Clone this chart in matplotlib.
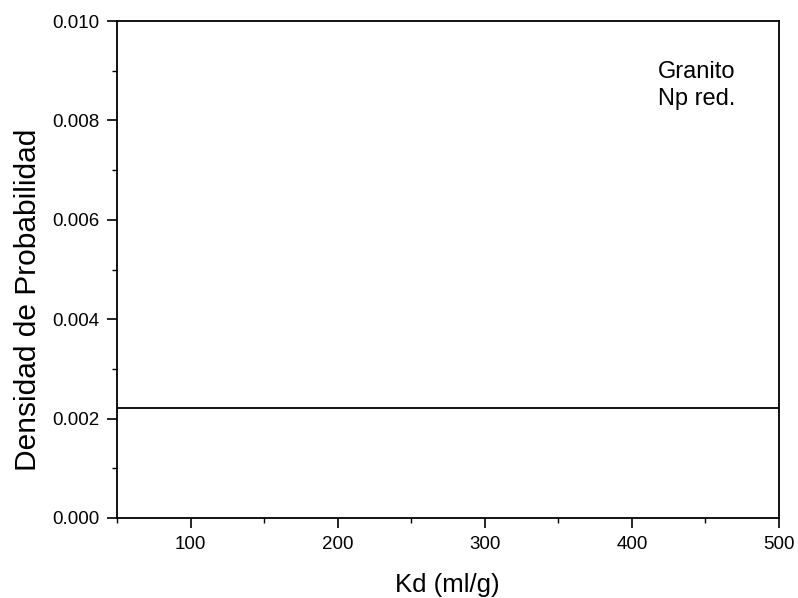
import matplotlib
matplotlib.use("Agg")
import matplotlib.pyplot as plt
from matplotlib.ticker import MultipleLocator

plt.rcParams['font.family'] = ['Liberation Sans', 'DejaVu Sans']

kd = [50, 500]
density = [0.00222, 0.00222]
xticks = [100, 200, 300, 400, 500]
yticks = [0.000, 0.002, 0.004, 0.006, 0.008, 0.010]
annotation = ["Granito", "Np red."]

W, H = 798, 598
fig = plt.figure(figsize=(W / 100, H / 100), dpi=100)
ax = fig.add_axes([117 / W, 1 - 518 / H, (779 - 117) / W, (518 - 21) / H])
ax.plot(kd, density, color='black', linewidth=1.3)
ax.set_xlim(50, 500)
ax.set_ylim(0, 0.010)
ax.set_xticks(xticks)
ax.set_yticks(yticks)
ax.set_yticklabels([f"{v:.3f}" for v in yticks])
ax.xaxis.set_minor_locator(MultipleLocator(50))
ax.yaxis.set_minor_locator(MultipleLocator(0.001))
ax.tick_params(which='major', direction='out', length=7, width=1.2, labelsize=13.5, colors='black')
ax.tick_params(axis='x', which='major', pad=6)
ax.tick_params(axis='y', which='major', pad=5.5)
ax.tick_params(which='minor', direction='out', length=3.6, width=1.0)
for s in ax.spines.values():
    s.set_linewidth(1.3)

fig.text(447.5 / W, 1 - 592 / H, "Kd (ml/g)", fontsize=18.5, ha='center', va='baseline')
fig.text(28 / W, 1 - 300 / H, "Densidad de Probabilidad", fontsize=21.5,
         ha='center', va='center', rotation=90)
baselines = [78, 105]
for label, b in zip(annotation, baselines):
    fig.text(658 / W, 1 - b / H, label, fontsize=17, ha='left', va='baseline')

fig.savefig("out.png", dpi=100)
